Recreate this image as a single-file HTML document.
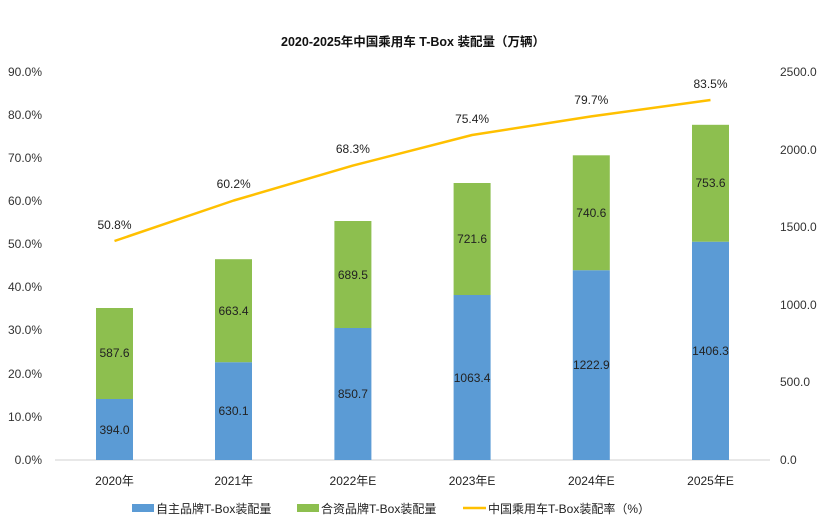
<!DOCTYPE html>
<html><head><meta charset="utf-8"><style>
body{margin:0;background:#fff;}
svg text{font-family:"Liberation Sans","Noto Sans CJK SC",sans-serif;}
</style></head><body>
<svg width="826" height="522" viewBox="0 0 826 522" xmlns="http://www.w3.org/2000/svg">
<rect width="826" height="522" fill="#fff"/>
<text x="413" y="46" text-anchor="middle" font-size="12.5" font-weight="bold" fill="#111">2020-2025年中国乘用车 T-Box 装配量（万辆）</text>
<g font-size="12" fill="#333" text-anchor="end">
<text x="42" y="464">0.0%</text><text x="42" y="421">10.0%</text><text x="42" y="378">20.0%</text><text x="42" y="334">30.0%</text><text x="42" y="291">40.0%</text><text x="42" y="248">50.0%</text><text x="42" y="205">60.0%</text><text x="42" y="162">70.0%</text><text x="42" y="119">80.0%</text><text x="42" y="76">90.0%</text>
</g>
<g font-size="12" fill="#333" text-anchor="start">
<text x="780" y="464">0.0</text><text x="780" y="386">500.0</text><text x="780" y="309">1000.0</text><text x="780" y="231">1500.0</text><text x="780" y="154">2000.0</text><text x="780" y="76">2500.0</text>
</g>
<line x1="55" y1="460" x2="770" y2="460" stroke="#d0d0d0" stroke-width="1"/>
<g fill="#5b9bd5">
<rect x="96" y="399" width="37" height="61"/>
<rect x="215" y="362.2" width="37" height="97.8"/>
<rect x="334.4" y="328" width="37" height="132"/>
<rect x="453.6" y="295" width="37" height="165"/>
<rect x="572.8" y="270.2" width="37" height="189.8"/>
<rect x="692" y="241.7" width="37" height="218.3"/>
</g>
<g fill="#8dbf4f">
<rect x="96" y="308" width="37" height="91"/>
<rect x="215" y="259.2" width="37" height="103"/>
<rect x="334.4" y="221" width="37" height="107"/>
<rect x="453.6" y="183" width="37" height="112"/>
<rect x="572.8" y="155.3" width="37" height="114.9"/>
<rect x="692" y="124.8" width="37" height="116.9"/>
</g>
<g font-size="12" fill="#222" text-anchor="middle">
<text x="114.5" y="434">394.0</text><text x="114.5" y="357">587.6</text>
<text x="233.5" y="415">630.1</text><text x="233.5" y="315">663.4</text>
<text x="352.9" y="398">850.7</text><text x="352.9" y="279">689.5</text>
<text x="472.1" y="382">1063.4</text><text x="472.1" y="243">721.6</text>
<text x="591.3" y="369">1222.9</text><text x="591.3" y="217">740.6</text>
<text x="710.5" y="355">1406.3</text><text x="710.5" y="187">753.6</text>
</g>
<polyline points="114.5,241 233.7,200.5 352.9,165.6 472.1,135 591.3,116.4 710.5,100" fill="none" stroke="#ffc000" stroke-width="2.5" stroke-linejoin="round"/>
<g font-size="12" fill="#222" text-anchor="middle">
<text x="114.5" y="229">50.8%</text><text x="233.7" y="188">60.2%</text><text x="352.9" y="153">68.3%</text><text x="472.1" y="123">75.4%</text><text x="591.3" y="104">79.7%</text><text x="710.5" y="88">83.5%</text>
</g>
<g font-size="12" fill="#222" text-anchor="middle">
<text x="114.5" y="485">2020年</text><text x="233.7" y="485">2021年</text><text x="352.9" y="485">2022年E</text><text x="472.1" y="485">2023年E</text><text x="591.3" y="485">2024年E</text><text x="710.5" y="485">2025年E</text>
</g>
<rect x="132" y="504" width="22" height="8" fill="#5b9bd5"/>
<text x="156" y="513" font-size="12" fill="#222">自主品牌T-Box装配量</text>
<rect x="297" y="504" width="22" height="8" fill="#8dbf4f"/>
<text x="321" y="513" font-size="12" fill="#222">合资品牌T-Box装配量</text>
<line x1="463" y1="508" x2="486" y2="508" stroke="#ffc000" stroke-width="2.5"/>
<text x="488" y="513" font-size="12" fill="#222">中国乘用车T-Box装配率（%）</text>
</svg>
</body></html>
